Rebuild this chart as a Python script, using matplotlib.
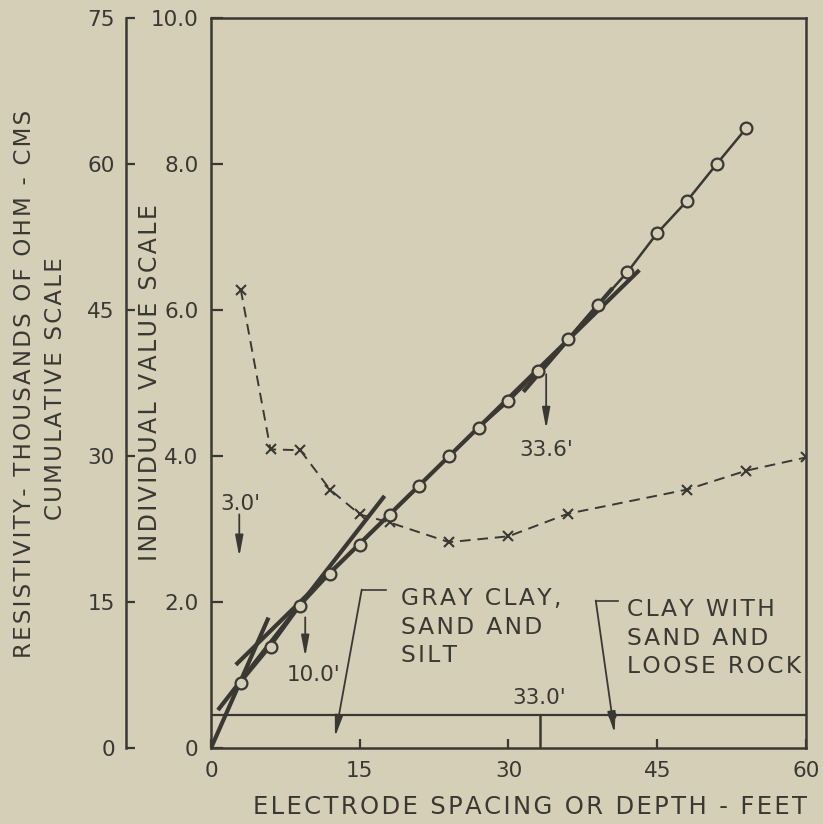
import numpy as np
import matplotlib.pyplot as plt

# cumulative resistivity (thousands of ohm-cm) vs electrode spacing
spacing_cum = [3, 6, 9, 12, 15, 18, 21, 24, 27, 30, 33, 36, 39, 42, 45, 48, 51, 54]
resist_cum = [6.7, 10.4, 14.6, 17.9, 20.9, 23.9, 26.9, 30.0, 32.9, 35.6,
              38.7, 42.0, 45.5, 48.9, 52.9, 56.2, 60.0, 63.7]

# individual readings (individual value scale)
spacing_ind = [3, 6, 9, 12, 15, 18, 24, 30, 36, 48, 54, 60]
resist_ind = [6.28, 4.09, 4.08, 3.54, 3.2, 3.09, 2.82, 2.9, 3.21, 3.54, 3.8, 3.98]

# straight-line fits through the cumulative curve (x0, y0, x1, y1) on cumulative scale
fit_lines = [
    (0.0, 0.0, 5.8, 13.4),
    (0.7, 3.9, 17.5, 25.9),
    (2.5, 8.55, 43.2, 49.1),
    (31.5, 36.6, 40.5, 47.25),
]

# layer breaks picked from the intersections
breaks = [(3.0, "3.0'"), (10.0, "10.0'"), (33.6, "33.6'")]
bed_depth = 33.0
bed_line = 0.45

ink = '#3a3833'
bg = '#d5cfb8'
plt.rcParams['font.family'] = 'DejaVu Sans'


def spaced(s, gap='\u200a'):
    return '\n'.join(gap.join(line) for line in s.split('\n'))


fig = plt.figure(figsize=(8.23, 8.24), dpi=100, facecolor=bg)
ax = fig.add_axes([0.2564, 0.0922, 0.7229, 0.886])
ax.set_facecolor(bg)
ax.set_xlim(0, 60)
ax.set_ylim(0, 10)

for sp in ax.spines.values():
    sp.set_color(ink)
    sp.set_linewidth(1.8)

ax.set_xticks([0, 15, 30, 45, 60])
ax.set_xticklabels(['0', '15', '30', '45', '60'])
ax.set_yticks([0, 2, 4, 6, 8, 10])
ax.set_yticklabels(['0', '2.0', '4.0', '6.0', '8.0', '10.0'])
ax.tick_params(axis='x', direction='in', length=6.5, width=1.6, color=ink,
               labelcolor=ink, labelsize=15.5, pad=9)
ax.tick_params(axis='y', direction='in', length=8.5, width=1.6, color=ink,
               labelcolor=ink, labelsize=15.5, pad=9)

# outer cumulative scale
ax2 = ax.twinx()
ax2.set_ylim(0, 75)
ax2.yaxis.tick_left()
ax2.spines['left'].set_position(('axes', -0.143))
ax2.spines['left'].set_color(ink)
ax2.spines['left'].set_linewidth(1.8)
for side in ['right', 'top', 'bottom']:
    ax2.spines[side].set_visible(False)
ax2.set_yticks([0, 15, 30, 45, 60, 75])
ax2.set_yticklabels(['0', '15', '30', '45', '60', '75'])
ax2.tick_params(axis='y', direction='in', length=6.5, width=1.6, color=ink,
                labelcolor=ink, labelsize=15.5, pad=8)

# individual values, dashed with x markers
ax.plot(spacing_ind, resist_ind, linestyle=(0, (5.5, 3.5)), lw=1.4, color=ink,
        marker='x', ms=6.5, mew=1.5, mec=ink, zorder=3)

# fitted segments
for x0, y0, x1, y1 in fit_lines:
    ax2.plot([x0, x1], [y0, y1], color=ink, lw=3.0, solid_capstyle='butt', zorder=3)

# cumulative curve
ax2.plot(spacing_cum, resist_cum, '-', lw=1.8, color=ink, marker='o', ms=8.5,
         mfc=bg, mec=ink, mew=1.6, zorder=4)

# bed boundary strip
ax.plot([0, 60], [bed_line, bed_line], color=ink, lw=1.6)
ax.plot([bed_depth + 0.2, bed_depth + 0.2], [0, bed_line], color=ink, lw=1.8)
ax.text(bed_depth + 0.1, 0.69, "33.0'", ha='center', va='center',
        fontsize=15.5, color=ink)

arrow = dict(arrowstyle='-|>,head_length=0.9,head_width=0.17', color=ink,
             lw=1.3, shrinkA=0, shrinkB=0, mutation_scale=14)

# depth picks
ax.annotate('', xy=(2.85, 2.62), xytext=(2.85, 3.2), arrowprops=arrow)
ax.text(2.95, 3.34, breaks[0][1], ha='center', va='center', fontsize=15.5, color=ink)
ax.annotate('', xy=(9.5, 1.25), xytext=(9.5, 1.79), arrowprops=arrow)
ax.text(10.3, 1.0, breaks[1][1], ha='center', va='center', fontsize=15.5, color=ink)
ax.annotate('', xy=(33.8, 4.37), xytext=(33.8, 5.12), arrowprops=arrow)
ax.text(33.8, 4.08, breaks[2][1], ha='center', va='center', fontsize=15.5, color=ink)

# layer descriptions with leaders
ax.plot([17.6, 15.2], [2.17, 2.17], color=ink, lw=1.2)
ax.annotate('', xy=(12.5, 0.15), xytext=(15.2, 2.17), arrowprops=arrow)
ax.text(19.2, 2.2, spaced('GRAY CLAY,\nSAND AND\nSILT'), ha='left', va='top',
        fontsize=16.8, color=ink, linespacing=1.3)

ax.plot([41.0, 38.8], [2.02, 2.02], color=ink, lw=1.2)
ax.annotate('', xy=(40.7, 0.2), xytext=(38.8, 2.02), arrowprops=arrow)
ax.plot([40.4], [bed_line], 'o', ms=5, color=ink)
ax.text(42.0, 2.05, spaced('CLAY WITH\nSAND AND\nLOOSE ROCK'), ha='left', va='top',
        fontsize=16.8, color=ink, linespacing=1.3)

# axis titles
fig.text(530 / 823, 1 - 807 / 824, spaced('ELECTRODE SPACING OR DEPTH - FEET'),
         ha='center', va='center', fontsize=17.5, color=ink)
fig.text(150 / 823, 1 - 383 / 824, spaced('INDIVIDUAL VALUE SCALE'), rotation=90,
         ha='center', va='center', fontsize=17, color=ink)
fig.text(25 / 823, 1 - 384 / 824, spaced('RESISTIVITY- THOUSANDS OF OHM - CMS'),
         rotation=90, ha='center', va='center', fontsize=16.5, color=ink)
fig.text(56 / 823, 1 - 389 / 824, spaced('CUMULATIVE SCALE'), rotation=90,
         ha='center', va='center', fontsize=16.5, color=ink)

fig.savefig('out.png', dpi=100, facecolor=bg)
